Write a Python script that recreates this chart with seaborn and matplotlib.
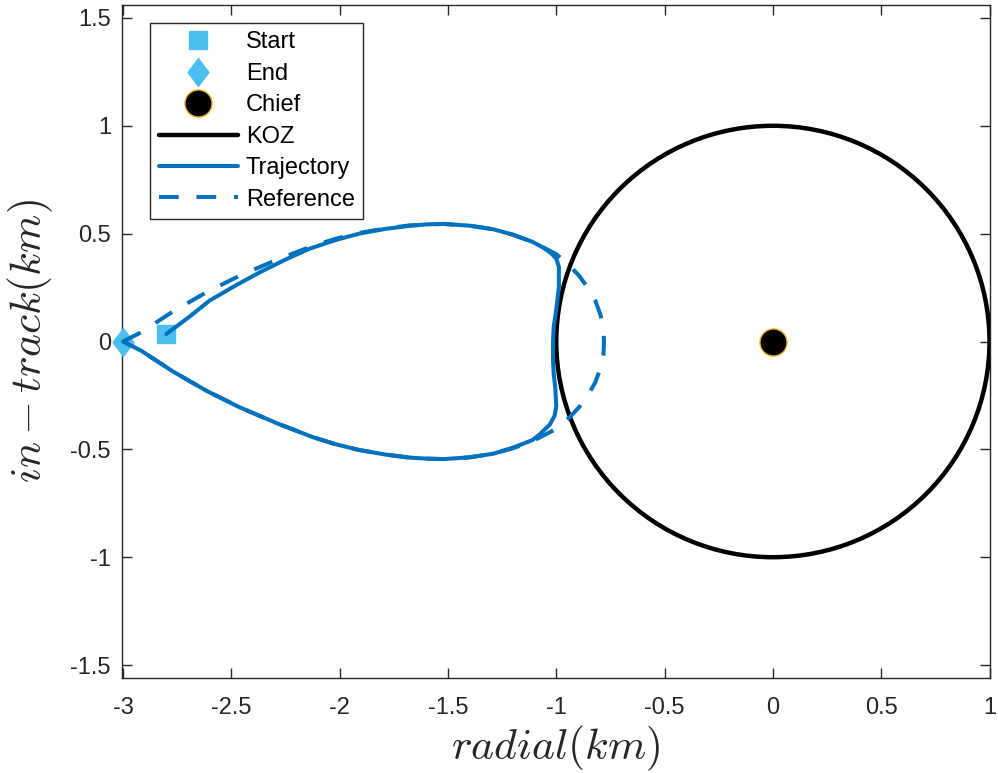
import numpy as np
import pandas as pd
import matplotlib
matplotlib.use("Agg")
import matplotlib.pyplot as plt
import seaborn as sns
from matplotlib.lines import Line2D
from matplotlib.patches import Circle
from matplotlib.path import Path

# ---------------- data ----------------
traj_x = [-2.80, -2.70, -2.60, -2.48, -2.37, -2.25, -2.14, -2.02, -1.91, -1.79, -1.68,
          -1.60, -1.52, -1.40, -1.29, -1.20, -1.11, -1.06, -1.025, -1.0, -0.988,
          -0.988, -0.999, -1.012, -1.015, -1.015, -1.012, -1.005, -1.0, -1.008,
          -1.03, -1.076, -1.11, -1.20, -1.29, -1.40, -1.52, -1.60, -1.68, -1.79,
          -1.91, -2.02, -2.125, -2.29, -2.462, -2.616, -2.77, -2.916, -3.0]
traj_y = [0.035, 0.11, 0.19, 0.26, 0.32, 0.38, 0.43, 0.47, 0.50, 0.522, 0.536,
          0.543, 0.545, 0.537, 0.52, 0.495, 0.462, 0.435, 0.41, 0.385, 0.345,
          0.251, 0.158, 0.066, 0.0, -0.088, -0.15, -0.211, -0.30, -0.345,
          -0.385, -0.43, -0.457, -0.492, -0.52, -0.537, -0.545, -0.543, -0.538, -0.524,
          -0.503, -0.476, -0.443, -0.379, -0.305, -0.228, -0.139, -0.043, 0.0]

ref_x = [-3.0, -2.916, -2.77, -2.616, -2.462, -2.29, -2.125, -2.02, -1.91, -1.79, -1.68,
         -1.60, -1.52, -1.40, -1.29, -1.20, -1.11, -1.0, -0.938, -0.895, -0.855, -0.82,
         -0.795, -0.782, -0.78, -0.782, -0.795, -0.82, -0.855, -0.895, -0.938, -1.0,
         -1.11, -1.20, -1.29, -1.40, -1.52, -1.60, -1.68, -1.79, -1.91, -2.02, -2.125,
         -2.29, -2.462, -2.616, -2.77, -2.916, -3.0]
ref_y = [0.0, 0.043, 0.139, 0.228, 0.305, 0.379, 0.443, 0.476, 0.503, 0.524, 0.538,
         0.543, 0.545, 0.537, 0.52, 0.495, 0.462, 0.405, 0.351, 0.305, 0.25, 0.19,
         0.12, 0.06, 0.0, -0.06, -0.12, -0.19, -0.25, -0.305, -0.351, -0.405,
         -0.462, -0.495, -0.52, -0.537, -0.545, -0.543, -0.538, -0.524, -0.503, -0.476, -0.443,
         -0.379, -0.305, -0.228, -0.139, -0.043, 0.0]

start_x, start_y = [-2.80], [0.035]
end_x, end_y = [-3.0], [0.0]
chief_x, chief_y = [0.0], [0.0]
koz_radius = 1.0

x_ticks = [-3, -2.5, -2, -1.5, -1, -0.5, 0, 0.5, 1]
y_ticks = [-1.5, -1, -0.5, 0, 0.5, 1, 1.5]
x_tick_labels = ["-3", "-2.5", "-2", "-1.5", "-1", "-0.5", "0", "0.5", "1"]
y_tick_labels = ["-1.5", "-1", "-0.5", "0", "0.5", "1", "1.5"]
legend_labels = ["Start", "End", "Chief", "KOZ", "Trajectory", "Reference"]
x_label = r"$radial(km)$"
y_label = r"$in-track(km)$"

# ---------------- styling ----------------
sns.set_theme(style="white")
plt.rcParams["font.family"] = ["Liberation Sans", "DejaVu Sans"]
plt.rcParams["mathtext.fontset"] = "cm"

BLUE = "#0072BD"
LIGHT = "#4DBEEE"
AXC = "#262626"

W, H = 998, 773
fig = plt.figure(figsize=(W / 100, H / 100), dpi=100)
ax_l, ax_r, ax_t, ax_b = 122, 989.5, 5, 678
ax = fig.add_axes([ax_l / W, 1 - ax_b / H, (ax_r - ax_l) / W, (ax_b - ax_t) / H])

diamond = Path([(0, 1), (0.75, 0), (0, -1), (-0.75, 0), (0, 1)],
               [Path.MOVETO, Path.LINETO, Path.LINETO, Path.LINETO, Path.CLOSEPOLY])

sq_ms, dm_ms, ch_ms = 12.5, 20, 19.5
LW = 2.9

ax.plot(start_x, start_y, ls="none", marker="s", ms=sq_ms, color=LIGHT, mec=LIGHT,
        zorder=3, clip_on=False)
ax.plot(end_x, end_y, ls="none", marker=diamond, ms=dm_ms, color=LIGHT, mec=LIGHT,
        zorder=3, clip_on=False)
ax.plot(chief_x, chief_y, ls="none", marker="o", ms=ch_ms, color="black", mec="#EDB120",
        mew=1.0, zorder=5)
ax.add_patch(Circle((chief_x[0], chief_y[0]), koz_radius, fill=False, ec="black",
                    lw=3.2, zorder=3))

traj_df = pd.DataFrame({"x": traj_x, "y": traj_y})
ref_df = pd.DataFrame({"x": ref_x, "y": ref_y})
sns.lineplot(data=traj_df, x="x", y="y", sort=False, estimator=None, ax=ax,
             color=BLUE, lw=LW, zorder=4)
sns.lineplot(data=ref_df, x="x", y="y", sort=False, estimator=None, ax=ax,
             color=BLUE, lw=LW, zorder=4)
ax.lines[-1].set_dashes((4.9, 4.4))
ax.lines[-1].set_dash_capstyle("butt")
for ln in ax.lines[-2:]:
    ln.set_clip_on(False)

ax.set_xlim(-3.005, 1.0)
ax.set_ylim(-1.56, 1.56)
ax.set_xticks(x_ticks)
ax.set_xticklabels(x_tick_labels)
ax.set_yticks(y_ticks)
ax.set_yticklabels(y_tick_labels)
ax.tick_params(direction="in", length=7, width=1.0, color=AXC, labelsize=17,
               labelcolor=AXC, top=True, right=True, bottom=True, left=True)
ax.tick_params(axis="x", pad=14)
ax.tick_params(axis="y", pad=8)
for s in ax.spines.values():
    s.set_color(AXC)
    s.set_linewidth(1.0)
    s.set_visible(True)

ax.set_xlabel(x_label, fontsize=31.5, color=AXC, labelpad=3)
ax.set_ylabel(y_label, fontsize=31.5, color=AXC, labelpad=11)

handles = [
    Line2D([], [], ls="none", marker="s", ms=sq_ms, color=LIGHT),
    Line2D([], [], ls="none", marker=diamond, ms=dm_ms, color=LIGHT),
    Line2D([], [], ls="none", marker="o", ms=ch_ms, color="black", mec="#EDB120", mew=1.0),
    Line2D([], [], color="black", lw=3.2),
    Line2D([], [], color=BLUE, lw=LW),
    Line2D([], [], color=BLUE, lw=LW, dashes=(4.9, 4.4), dash_capstyle="butt"),
]
leg_x0 = (150 - ax_l) / (ax_r - ax_l)
leg_y0 = 1 - (23 - ax_t) / (ax_b - ax_t)
leg = ax.legend(handles, legend_labels, loc="upper left", bbox_to_anchor=(leg_x0, leg_y0),
                fontsize=17, frameon=True, fancybox=False, edgecolor=AXC, framealpha=1,
                handlelength=3.35, handletextpad=0.34, labelspacing=0.40, borderpad=0.36,
                borderaxespad=0)
leg.get_frame().set_linewidth(1.0)
for t in leg.get_texts():
    t.set_color("black")

fig.savefig("out.png", dpi=100)
